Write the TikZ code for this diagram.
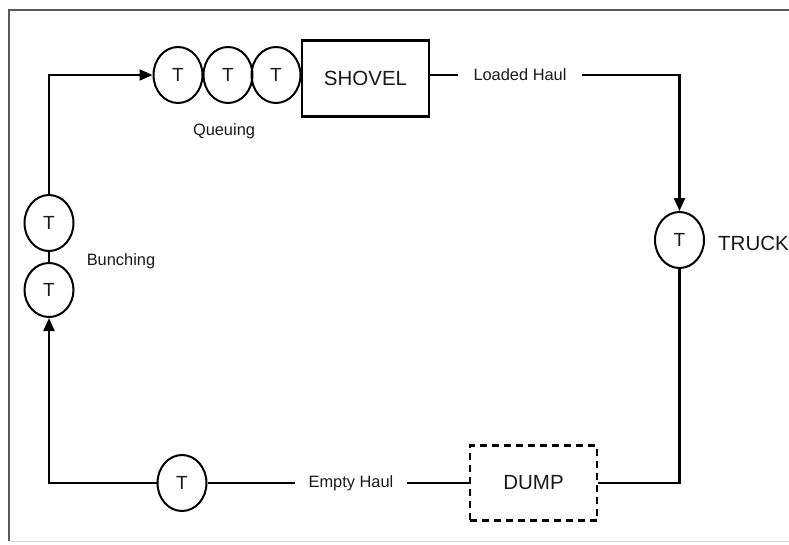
\documentclass[tikz,border=0pt]{standalone}
\usepackage{fontspec}
\setmainfont{Liberation Sans}
\usetikzlibrary{shapes.geometric,arrows.meta}
\begin{document}
\begin{tikzpicture}[x=1pt,y=-1pt,
  every node/.style={text=black!90},
  tcirc/.style={ellipse,draw,line width=2pt,minimum width=49pt,minimum height=56pt,inner sep=0pt,font=\fontsize{19}{21}\selectfont},
  bigbox/.style={rectangle,draw,line width=2.2pt,minimum width=127pt,minimum height=76pt,inner sep=0pt,font=\fontsize{20.5}{22}\selectfont},
  lbl/.style={font=\fontsize{16.4}{18}\selectfont,inner sep=0pt},
  conn/.style={line width=2.1pt},
  arr/.style={conn,-{Triangle[length=13pt,width=11pt]}}]
\useasboundingbox (0,0) rectangle (789,544);
% frame
\draw[line width=1.8pt,black!65] (789,10) -- (9,10) -- (9,541);
\draw[line width=1pt,black!15] (9,541) -- (789,541);
% queue + shovel
\node[tcirc] (q1) at (178,75) {T};
\node[tcirc] (q2) at (228,75) {T};
\node[tcirc] (q3) at (276,75) {T};
\node[bigbox] (shovel) at (365.5,78.5) {SHOVEL};
\node[lbl] (queuing) at (224,131) {Queuing};
\node[lbl,inner xsep=15pt] (loaded) at (520,75) {Loaded Haul};
% truck
\node[tcirc] (truck) at (679.5,240) {T};
\node[font=\fontsize{20.5}{22}\selectfont,anchor=west,inner sep=0pt] (trucklbl) at (718,243) {TRUCK};
% dump
\node[bigbox,dashed,dash pattern=on 7pt off 5pt,minimum height=75pt] (dump) at (533.5,483) {DUMP};
\node[lbl,inner xsep=13pt] (empty) at (351,483) {Empty Haul};
\node[tcirc] (e1) at (182,483) {T};
% bunching
\node[tcirc] (b1) at (49,223) {T};
\node[tcirc,minimum height=54pt] (b2) at (49,290) {T};
\node[lbl] (bunching) at (121,261) {Bunching};
% connectors
\draw[conn] (shovel.east |- q3.east) -- (loaded.west);
\draw[arr] (loaded.east) -| (truck.north);
\draw[conn] (truck.south) |- (dump.east);
\draw[conn] (dump.west) -- (empty.east);
\draw[conn] (empty.west) -- (e1.east);
\draw[arr] (e1.west) -| (b2.south);
\draw[conn] (b2.north) -- (b1.south);
\draw[arr] (b1.north) |- (q1.west);
\end{tikzpicture}
\end{document}
